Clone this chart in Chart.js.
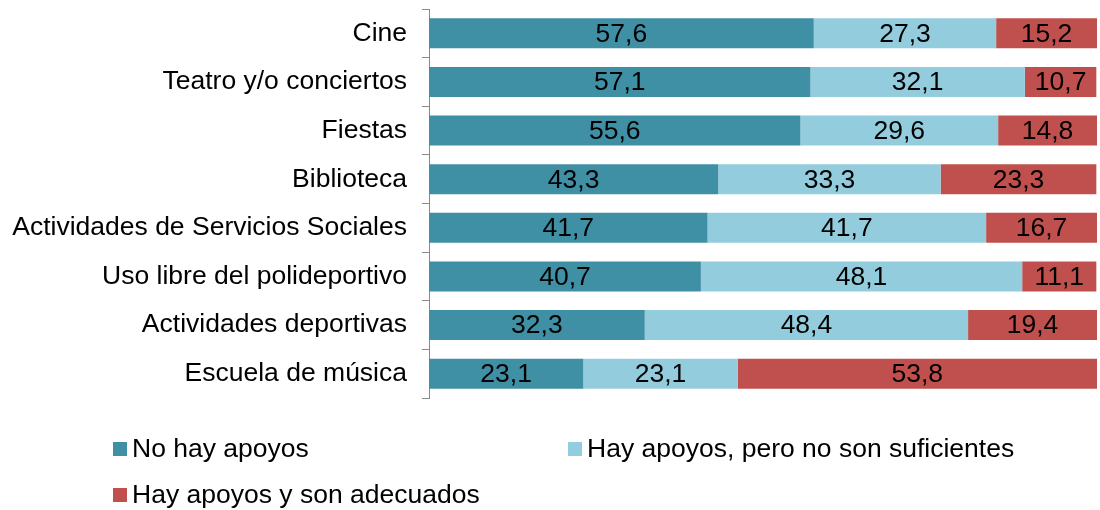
<!DOCTYPE html>
<html><head><meta charset="utf-8">
<script src="https://cdn.jsdelivr.net/npm/chart.js@4/dist/chart.umd.min.js"></script>
<style>html,body{margin:0;padding:0;background:#fff}#wrap{width:1100px;height:510px;position:relative}</style>
</head><body><div id="wrap"><canvas id="c" width="1100" height="510"></canvas></div>
<script>
const categories = ["Cine","Teatro y/o conciertos","Fiestas","Biblioteca","Actividades de Servicios Sociales","Uso libre del polideportivo","Actividades deportivas","Escuela de música"];
const noHayApoyos = [57.6,57.1,55.6,43.3,41.7,40.7,32.3,23.1];
const apoyosInsuficientes = [27.3,32.1,29.6,33.3,41.7,48.1,48.4,23.1];
const apoyosAdecuados = [15.2,10.7,14.8,23.3,16.7,11.1,19.4,53.8];
const seriesNames = ["No hay apoyos","Hay apoyos, pero no son suficientes","Hay apoyos y son adecuados"];
const colors = ["#3F8FA5","#93CDDD","#C0504D"];
const FONT = "'Liberation Sans', Arial, sans-serif";
const FS = 26.5;

const valueLabels = {
  id:'valueLabels',
  afterDatasetsDraw(chart){
    const ctx = chart.ctx;
    ctx.save();
    ctx.font = FS + "px " + FONT;
    ctx.fillStyle = "#000";
    ctx.textAlign = "center";
    ctx.textBaseline = "middle";
    chart.data.datasets.forEach((ds,i)=>{
      const meta = chart.getDatasetMeta(i);
      meta.data.forEach((bar,j)=>{
        const left = Math.min(bar.x, bar.base), right = Math.min(Math.max(bar.x, bar.base), chart.chartArea.right);
        ctx.fillText(ds.data[j].toFixed(1).replace('.',','), (left+right)/2, bar.y+1);
      });
    });
    ctx.restore();
  }
};
const customLegend = {
  id:'customLegend',
  afterDraw(chart){
    const ctx = chart.ctx;
    const pos = [[113,449],[568,449],[113,495]];
    ctx.save();
    ctx.font = FS + "px " + FONT;
    ctx.textBaseline = "middle";
    ctx.textAlign = "left";
    seriesNames.forEach((n,i)=>{
      const [x,y] = pos[i];
      ctx.fillStyle = colors[i];
      ctx.fillRect(x, y-7, 14, 14);
      ctx.fillStyle = "#000";
      ctx.fillText(n, x+19, y+1);
    });
    ctx.restore();
  }
};

new Chart(document.getElementById('c'), {
  type:'bar',
  data:{
    labels: categories,
    datasets:[
      {label:seriesNames[0], data:noHayApoyos, backgroundColor:colors[0]},
      {label:seriesNames[1], data:apoyosInsuficientes, backgroundColor:colors[1]},
      {label:seriesNames[2], data:apoyosAdecuados, backgroundColor:colors[2]}
    ]
  },
  options:{
    indexAxis:'y',
    responsive:false,
    animation:false,
    devicePixelRatio:1,
    layout:{padding:{top:9,bottom:112,right:3,left:0}},
    datasets:{bar:{barPercentage:0.617,categoryPercentage:1,borderWidth:0}},
    plugins:{legend:{display:false},tooltip:{enabled:false}},
    scales:{
      x:{stacked:true,min:0,max:100,display:false},
      y:{stacked:true,
         afterFit(s){s.width=429;s.paddingTop=0;s.paddingBottom=0;},
         grid:{offset:true,drawOnChartArea:false,drawTicks:true,tickLength:7,color:'#898989'},
         border:{display:true,color:'#898989',width:1},
         ticks:{padding:15,color:'#000',font:{family:FONT,size:FS}}
      }
    }
  },
  plugins:[valueLabels,customLegend]
});
</script></body></html>
